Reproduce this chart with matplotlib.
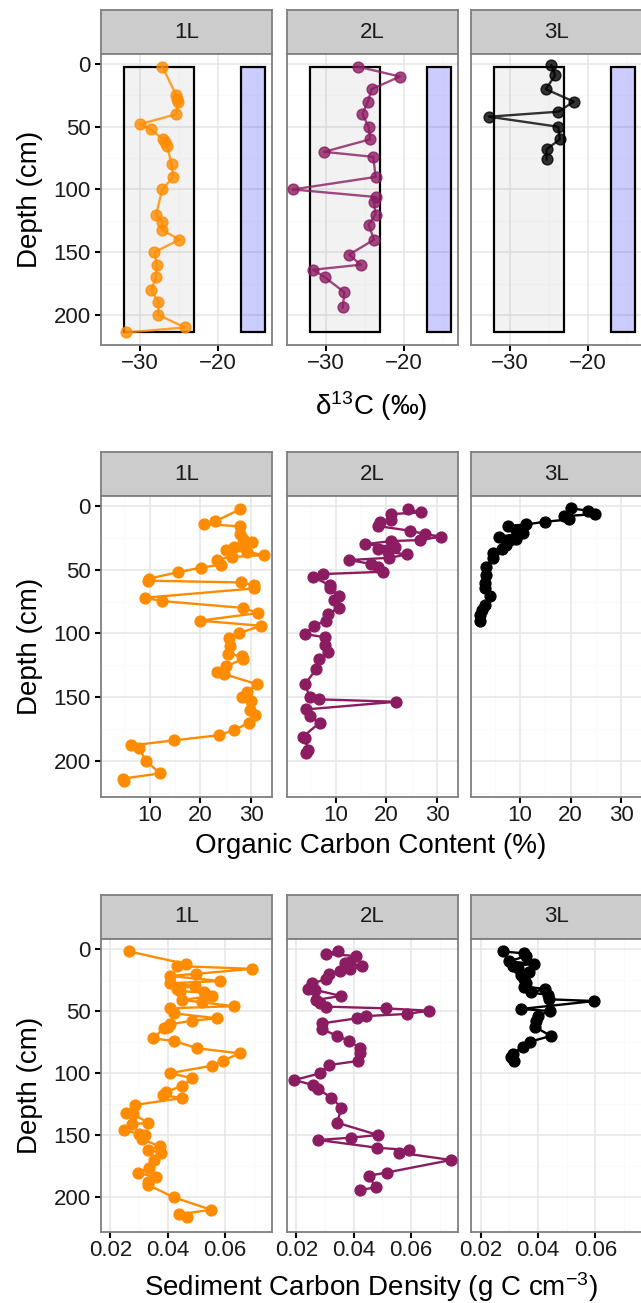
import matplotlib
matplotlib.use('Agg')
import matplotlib.pyplot as plt
from matplotlib.patches import Rectangle

plt.rcParams['font.family'] = ['Liberation Sans', 'DejaVu Sans']
plt.rcParams['mathtext.fontset'] = 'custom'
plt.rcParams['mathtext.rm'] = 'Liberation Sans'
plt.rcParams['mathtext.it'] = 'Liberation Sans:italic'

SITES = ['1L', '2L', '3L']
COLORS = {'1L': '#FF8C00', '2L': '#8B1C62', '3L': '#000000'}

# --- delta 13C (per mil) ---
d13c_depth_1L = [2, 25, 28, 30, 40, 48, 52, 60, 62, 65, 80, 90, 100, 120, 126, 132, 140,
                 150, 160, 170, 180, 190, 200, 210, 214]
d13c_1L = [-27.1, -25.3, -25.2, -25.1, -25.3, -30.0, -28.6, -27.0, -26.7, -26.5, -25.9, -25.7,
           -27.1, -27.9, -27.1, -27.2, -24.9, -28.1, -27.8, -27.9, -28.5, -27.6, -27.6, -24.2, -31.7]
d13c_depth_2L = [2, 10, 20, 30, 40, 50, 60, 70, 74, 90, 100, 106, 110, 120, 128, 140, 152,
                 160, 164, 170, 182, 194]
d13c_2L = [-25.9, -20.5, -24.1, -24.6, -25.3, -24.5, -24.3, -30.2, -23.9, -23.6, -34.2, -23.6,
           -23.8, -23.6, -24.5, -23.8, -27.0, -25.5, -31.6, -30.1, -27.6, -27.8]
d13c_depth_3L = [1, 9, 20, 30, 38, 42, 50, 60, 68, 76]
d13c_3L = [-24.7, -24.2, -25.4, -21.8, -23.8, -32.7, -23.8, -23.6, -25.3, -25.3]

# reference ranges (terrestrial / marine source boxes)
box_grey = (-32, -23)
box_blue = (-17, -14)
box_depth = (2, 214)

# --- organic carbon content (%) ---
oc_depth_1L = [2.6, 12, 14, 16, 22, 26, 28.5, 30.6, 32, 34.5, 36, 38.5, 40, 42, 46, 48.4, 52,
               57, 58.6, 60, 62, 64.7, 72, 74.6, 80, 84, 90, 94, 100, 104, 110, 116, 118, 120,
               126, 130, 132, 140, 146, 150, 153, 160, 164, 170, 176, 180, 184, 188, 190, 200,
               210, 214, 216]
oc_1L = [27.8, 22.9, 20.7, 27.8, 27.8, 28.4, 30.1, 28.6, 26.7, 25.1, 29.1, 32.6, 26.2, 23.2,
         24.0, 20.1, 15.5, 9.9, 9.7, 28.0, 30.5, 30.5, 9.1, 12.4, 28.4, 31.4, 19.9, 31.9, 27.5,
         25.7, 25.8, 25.5, 28.2, 28.3, 25.1, 23.2, 24.7, 31.2, 29.1, 28.2, 29.9, 29.7, 30.8,
         29.6, 26.6, 23.6, 14.8, 6.4, 7.8, 9.3, 12.0, 4.8, 4.9]
oc_depth_2L = [2.4, 5, 6.3, 11, 12.8, 15.7, 19.4, 22, 24, 26.7, 27.5, 30, 32, 34, 36, 38, 40.6,
               42.4, 45.5, 48, 51.6, 53.4, 56, 62, 64.7, 70.7, 73.8, 80, 84.8, 90, 94, 100.5,
               103, 109, 114.4, 120.4, 128, 140, 149.7, 151.8, 153.7, 159.7, 165, 170, 181,
               182.5, 191.6, 194]
oc_2L = [24.2, 26.8, 20.9, 20.9, 18.7, 18.3, 24.7, 27.6, 30.7, 26.7, 20.9, 15.7, 21.6, 18.3,
         20.3, 24.1, 20.6, 12.7, 17.0, 18.4, 19.4, 7.5, 5.6, 8.8, 8.8, 10.6, 9.7, 10.6, 8.5, 8.0,
         5.8, 3.9, 7.8, 7.8, 8.5, 6.7, 6.2, 3.9, 4.9, 6.7, 21.9, 4.2, 4.9, 6.9, 3.6, 3.9, 4.6, 4.2]
oc_depth_3L = [1.8, 3.7, 6.3, 8, 10.5, 12.3, 14.4, 15.7, 19, 21.5, 24, 26, 26.7, 30.6, 34, 37,
               41, 48, 54, 60.7, 64.7, 70.7, 77.7, 81.7, 85.6, 90]
oc_3L = [20.1, 23.5, 24.8, 18.6, 19.7, 15.0, 11.2, 7.6, 9.3, 10.6, 5.9, 9.3, 8.0, 7.3, 6.5,
         4.7, 4.7, 3.3, 3.3, 3.1, 3.1, 4.1, 3.1, 2.6, 2.1, 2.2]

# --- sediment carbon density (g C cm-3) ---
scd_depth_1L = [2, 12, 13.7, 16, 20, 21.7, 25.8, 27.6, 29.8, 32, 34, 35, 37.8, 41, 43, 46,
                47.8, 51.8, 55.8, 57.7, 60.6, 62.5, 64, 72, 74, 80, 84, 90, 94, 100, 104, 110,
                115.4, 117.6, 120, 125.6, 131.8, 133, 140, 141, 145.8, 149, 149.8, 153, 159,
                161.9, 164, 170, 176, 180, 184, 188, 190, 200, 210, 213.7, 216]
scd_1L = [0.0265, 0.0462, 0.0432, 0.0694, 0.0497, 0.0409, 0.0583, 0.0407, 0.0494, 0.0432,
          0.0442, 0.0525, 0.0555, 0.0451, 0.0520, 0.0629, 0.0409, 0.0421, 0.0571, 0.0486,
          0.0409, 0.0401, 0.0387, 0.0347, 0.0421, 0.0503, 0.0650, 0.0592, 0.0554, 0.0407,
          0.0486, 0.0451, 0.0393, 0.0382, 0.0449, 0.0286, 0.0254, 0.0280, 0.0332, 0.0277,
          0.0247, 0.0301, 0.0320, 0.0309, 0.0372, 0.0332, 0.0378, 0.0351, 0.0335, 0.0297,
          0.0358, 0.0332, 0.0332, 0.0421, 0.0551, 0.0439, 0.0467]
scd_depth_2L = [1.6, 4, 5.6, 10.2, 11.5, 13.7, 16.4, 17.7, 20, 24.4, 27.7, 32, 33, 37.8, 41,
                43.8, 46.4, 47.8, 49.7, 52.3, 54, 55.8, 59.9, 64.4, 70, 73.8, 80, 84, 90.2,
                93.4, 100.1, 105.5, 109.5, 113, 119.7, 127.8, 139.9, 149.8, 151.9, 153.8, 160,
                161.9, 164, 169.9, 180, 182.6, 192, 194]
scd_2L = [0.0345, 0.0303, 0.0406, 0.0388, 0.0371, 0.0429, 0.0388, 0.0353, 0.0312, 0.0303,
          0.0254, 0.0242, 0.0266, 0.0356, 0.0269, 0.0283, 0.0303, 0.0511, 0.0663, 0.0584,
          0.0444, 0.0412, 0.0289, 0.0289, 0.0342, 0.0382, 0.0423, 0.0421, 0.0414, 0.0315,
          0.0283, 0.0193, 0.0257, 0.0277, 0.0322, 0.0357, 0.0342, 0.0484, 0.0392, 0.0277,
          0.0480, 0.0591, 0.0558, 0.0739, 0.0515, 0.0453, 0.0476, 0.0423]
scd_depth_3L = [2, 3.5, 5.6, 10, 12, 13.7, 15.6, 18.3, 20.9, 24.4, 27.7, 30.3, 32.2, 35, 37,
                40.5, 41.9, 48.3, 50, 53.7, 57.7, 63, 70, 74.6, 78.7, 84.5, 86.7, 90]
scd_3L = [0.0277, 0.0352, 0.0358, 0.0300, 0.0387, 0.0312, 0.0329, 0.0370, 0.0341, 0.0352,
          0.0358, 0.0352, 0.0426, 0.0376, 0.0434, 0.0437, 0.0597, 0.0341, 0.0442, 0.0399,
          0.0393, 0.0391, 0.0445, 0.0373, 0.0347, 0.0312, 0.0306, 0.0317]

depth_ticks = [0, 50, 100, 150, 200]
depth_minor = [25, 75, 125, 175, 225]

W, H = 641, 1303
PANEL_X = [(100.6, 272), (286.6, 458), (471, 642)]

rows = [
    dict(strip=(10, 54), panel=(54, 345), ylim=(224, -8), xlim=(-35.0, -13.05),
         xticks=[-30, -20], xminor=[-35, -25, -15], fmt='{:.0f}',
         xlabel='δ$^{13}$C (‰)', label_y=406, alpha=0.8,
         data={'1L': (d13c_1L, d13c_depth_1L), '2L': (d13c_2L, d13c_depth_2L),
               '3L': (d13c_3L, d13c_depth_3L)}),
    dict(strip=(452, 496), panel=(496, 797), ylim=(228.5, -7.9), xlim=(0.33, 34.1),
         xticks=[10, 20, 30], xminor=[5, 15, 25], fmt='{:.0f}',
         xlabel='Organic Carbon Content (%)', label_y=846, alpha=1.0,
         data={'1L': (oc_1L, oc_depth_1L), '2L': (oc_2L, oc_depth_2L),
               '3L': (oc_3L, oc_depth_3L)}),
    dict(strip=(895, 939), panel=(939, 1232), ylim=(227.9, -8.05), xlim=(0.0166, 0.0763),
         xticks=[0.02, 0.04, 0.06], xminor=[0.03, 0.05, 0.07], fmt='{:.2f}',
         xlabel='Sediment Carbon Density (g C cm$^{-3}$)', label_y=1287, alpha=1.0,
         data={'1L': (scd_1L, scd_depth_1L), '2L': (scd_2L, scd_depth_2L),
               '3L': (scd_3L, scd_depth_3L)}),
]


def rect(x0, x1, y0, y1):
    return [x0 / W, 1 - y1 / H, (x1 - x0) / W, (y1 - y0) / H]


fig = plt.figure(figsize=(W / 100, H / 100), dpi=100)

for r, row in enumerate(rows):
    for i, site in enumerate(SITES):
        x0, x1 = PANEL_X[i]

        # strip
        sax = fig.add_axes(rect(x0, x1, *row['strip']))
        sax.set_facecolor('#CCCCCC')
        sax.set_xticks([])
        sax.set_yticks([])
        for sp in sax.spines.values():
            sp.set_color('#7F7F7F')
            sp.set_linewidth(1.3)
        sax.text(0.5, 0.5, site, ha='center', va='center', fontsize=16,
                 color='#1A1A1A', transform=sax.transAxes)

        ax = fig.add_axes(rect(x0, x1, *row['panel']))
        ax.set_xlim(*row['xlim'])
        ax.set_ylim(*row['ylim'])
        ax.set_axisbelow(True)
        for v in row['xminor']:
            ax.axvline(v, color='#FAFAFA', lw=0.8, zorder=0)
        for v in depth_minor:
            ax.axhline(v, color='#FAFAFA', lw=0.8, zorder=0)
        for v in row['xticks']:
            ax.axvline(v, color='#E5E5E5', lw=1.1, zorder=0)
        for v in depth_ticks:
            ax.axhline(v, color='#E5E5E5', lw=1.1, zorder=0)

        if r == 0:
            ax.add_patch(Rectangle((box_grey[0], box_depth[0]), box_grey[1] - box_grey[0],
                                   box_depth[1] - box_depth[0], facecolor=(0.5, 0.5, 0.5, 0.1),
                                   edgecolor='black', lw=1.6, zorder=1))
            ax.add_patch(Rectangle((box_blue[0], box_depth[0]), box_blue[1] - box_blue[0],
                                   box_depth[1] - box_depth[0], facecolor=(0, 0, 1, 0.2),
                                   edgecolor='black', lw=1.6, zorder=1))

        vals, depth = row['data'][site]
        ax.plot(vals, depth, color=COLORS[site], lw=1.7, marker='o', markersize=7.8,
                alpha=row['alpha'], zorder=3)

        ax.set_xticks(row['xticks'])
        ax.set_xticklabels([row['fmt'].format(v).replace('-', '\u2212') for v in row['xticks']])
        ax.tick_params(axis='x', length=4, width=1.5, color='black', pad=2,
                       labelsize=16, labelcolor='#1A1A1A')
        if i == 0:
            ax.set_yticks(depth_ticks)
            ax.tick_params(axis='y', length=4, width=1.5, color='black', pad=3,
                           labelsize=16, labelcolor='#1A1A1A')
        else:
            ax.set_yticks([])
        for sp in ax.spines.values():
            sp.set_color('#7F7F7F')
            sp.set_linewidth(1.3)

    fig.text(371 / W, 1 - row['label_y'] / H, row['xlabel'], ha='center', va='center',
             fontsize=20, color='black')
    py0, py1 = row['panel']
    fig.text(30 / W, 1 - (py0 + py1) / 2 / H, 'Depth (cm)', ha='center', va='center',
             rotation=90, fontsize=20, color='black')

fig.savefig('out.png', dpi=100)
